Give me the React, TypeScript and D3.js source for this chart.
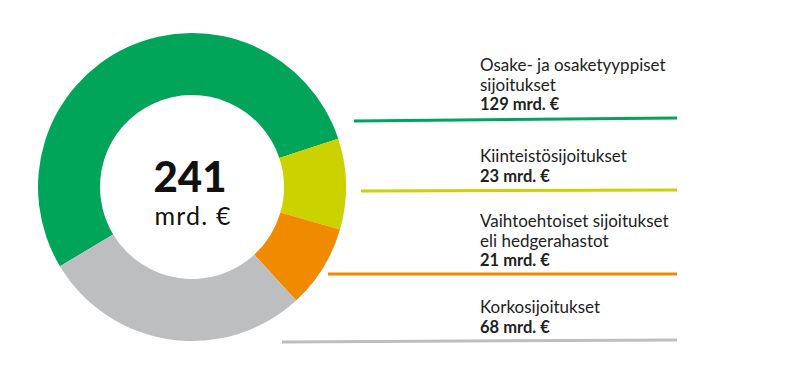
import React, { useEffect, useRef } from "react";
import * as d3 from "d3";

const categories = ["Osake- ja osaketyyppiset sijoitukset", "Kiinteistösijoitukset", "Vaihtoehtoiset sijoitukset eli hedgerahastot", "Korkosijoitukset"];
const labelLines = [["Osake- ja osaketyyppiset", "sijoitukset"], ["Kiinteistösijoitukset"], ["Vaihtoehtoiset sijoitukset", "eli hedgerahastot"], ["Korkosijoitukset"]];
const values = [129, 23, 21, 68];
const colors = ["#00a559", "#cbd200", "#f08b00", "#bdbec0"];
const totalLabel = "241";
const unit = "mrd. €";

export default function App() {
  const ref = useRef<SVGSVGElement>(null);
  useEffect(() => {
    const node = ref.current; if (!node) return;
    const svg = d3.select(node);
    svg.selectAll("*").remove();
    const cx = 192, cy = 187, rO = 154, rI = 92;
    const start = (239 * Math.PI) / 180;
    const pie = d3.pie<number>().sort(null).startAngle(start).endAngle(start + 2 * Math.PI);
    const arc = d3.arc<d3.PieArcDatum<number>>().innerRadius(rI).outerRadius(rO);
    const g = svg.append("g").attr("transform", `translate(${cx},${cy})`);
    g.selectAll("path").data(pie(values)).join("path").attr("d", arc).attr("fill", (_, i) => colors[i]);
    g.append("text").attr("x", -2).attr("y", 5).attr("text-anchor", "middle").attr("font-family", "Lato").attr("font-weight", 900)
      .attr("font-size", 42).attr("fill", "#111").text(totalLabel);
    g.append("text").attr("x", 1).attr("y", 38).attr("text-anchor", "middle").attr("font-family", "Lato")
      .attr("font-size", 25).attr("letter-spacing", 1.2).attr("fill", "#111").text(unit);

    // legend rows: first-line baseline, leader line ends
    const rowY = d3.scaleOrdinal<number, number>().domain([0, 1, 2, 3]).range([71, 162, 227, 313]);
    const lineY = [[121, 118], [191, 190], [274, 274], [342, 340]];
    const lineX0 = [354, 361, 328, 282];
    const tx = 480, lh = 19.5;
    categories.forEach((_, i) => {
      const y0 = rowY(i);
      const t = svg.append("text").attr("font-family", "Lato").attr("font-size", 17).attr("fill", "#222");
      labelLines[i].forEach((l, j) => t.append("tspan").attr("x", tx).attr("y", y0 + j * lh).text(l));
      svg.append("text").attr("x", tx).attr("y", y0 + labelLines[i].length * lh).attr("font-family", "Lato")
        .attr("font-weight", 700).attr("font-size", 16.5).attr("fill", "#222").text(`${values[i]} ${unit}`);
      svg.append("line").attr("x1", lineX0[i]).attr("y1", lineY[i][0]).attr("x2", 677).attr("y2", lineY[i][1])
        .attr("stroke", colors[i]).attr("stroke-width", 3);
    });
  }, []);
  return <svg ref={ref} width={790} height={365} style={{ display: "block", position: "absolute", left: 0, top: 0 }} />;
}
